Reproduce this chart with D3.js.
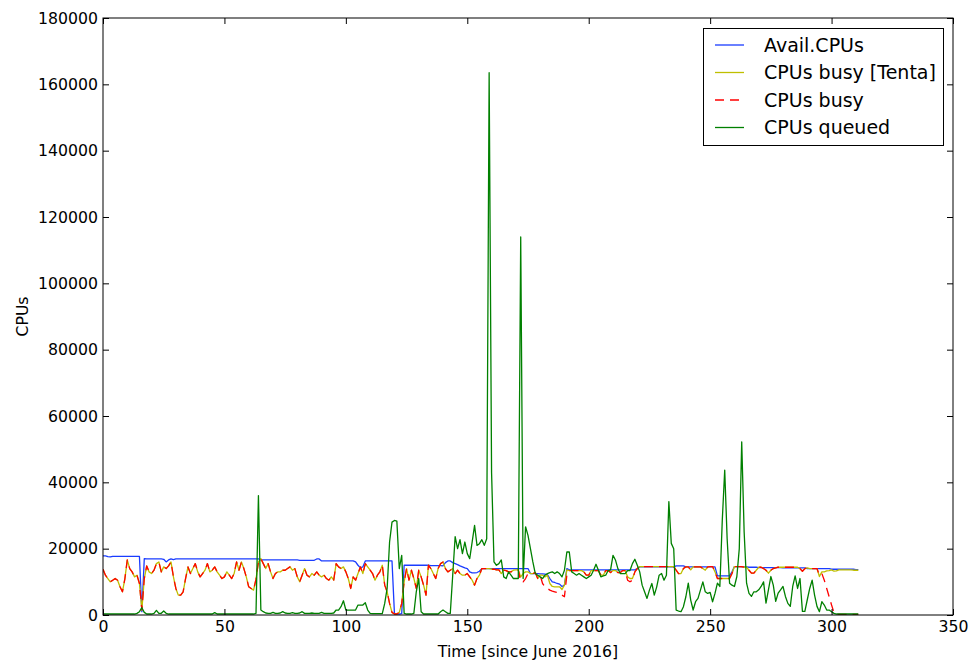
<!DOCTYPE html>
<html>
<head>
<meta charset="utf-8">
<script src="https://cdn.jsdelivr.net/npm/d3@7"></script>
<style>
  html, body { margin: 0; padding: 0; background: #ffffff; }
  svg { display: block; font-family: "DejaVu Sans", sans-serif; }
</style>
</head>
<body>
<svg id="chart" width="969" height="660"></svg>
<script>
// ---------------- data ----------------
const days = d3.range(312);

const xTicks = [0, 50, 100, 150, 200, 250, 300, 350];
const yTicks = [0, 20000, 40000, 60000, 80000, 100000, 120000, 140000, 160000, 180000];

const seriesNames = ["Avail.CPUs", "CPUs busy [Tenta]", "CPUs busy", "CPUs queued"];

const availCPUs = [
  17800,17800,17600,17500,17700,17700,17700,17700,17700,17700,
  17700,17700,17700,17700,17700,17700,1000,17000,16900,16900,
  16900,16900,16900,16900,16900,16800,16000,16600,16900,16700,
  16900,16900,16900,16900,16900,16900,16900,16900,16900,16900,
  16900,16900,16900,16900,16900,16900,16900,16900,16900,16900,
  16900,16900,16900,16900,16900,16900,16900,16900,16900,16900,
  16900,16900,16900,16900,16900,16600,16600,16600,16600,16600,
  16600,16600,16600,16600,16600,16600,16600,16600,16600,16600,
  16600,16500,16500,16500,16500,16500,16500,16500,16900,16900,
  16300,16300,16300,16300,16300,16300,16300,16300,16300,16300,
  16300,16300,16300,16300,16000,15000,14200,14500,16300,16300,
  16300,16300,16300,16300,16300,16300,16300,16300,16300,16300,
  500,300,300,400,15000,15000,15000,15000,15000,15000,
  15000,15000,15000,15000,15000,14900,14900,14900,14900,14900,
  14800,15800,16300,16300,15800,15500,15200,14800,14500,14200,
  14000,13000,12700,12700,12800,13200,14000,14000,14000,14000,
  14000,14000,14000,14000,14000,14000,14000,14000,14000,14000,
  14000,14000,14000,14000,14000,14000,12500,12500,12500,12500,
  12400,12400,12300,12200,11000,10000,9800,9500,9300,8600,
  9000,14000,13600,13600,13600,13600,13600,13600,13600,13600,
  13600,13600,13600,13600,13600,13600,13600,13600,13600,13600,
  13600,13600,13600,13600,13600,13600,13600,13600,13600,13600,
  14000,14500,14500,14500,14500,14500,14500,14500,14500,14500,
  14500,14500,14500,14500,14500,14500,14800,14800,14800,14800,
  14500,14500,14500,14500,14500,14500,14500,14500,14500,14500,
  14500,14500,14500,11800,11800,11800,11800,11800,11800,13000,
  14600,14600,14600,14500,14500,14500,14400,14400,14400,14400,
  14300,14300,14300,14300,14300,14300,14300,14300,14300,14300,
  14200,14200,14200,14200,14200,14200,14200,14200,14200,14200,
  14000,14000,14000,14000,14000,14000,14000,14000,14000,14000,
  13800,13800,13800,13800,13800,13800,13800,13800,13800,13800,
  13700,13700
];

const busyTenta = [
  13800,12000,11000,10000,10500,11000,10500,8500,7000,10900,
  16600,14000,13000,11500,12000,9500,1500,11000,14800,13000,
  12500,13500,15500,16000,13000,14500,14000,14800,16000,11500,
  8000,6000,6000,7000,11000,14500,12500,14000,15500,13000,
  11500,12500,13500,15500,13000,13500,14500,13000,12000,11000,
  11500,13000,12000,11000,12500,16000,13500,16000,14000,11500,
  8500,8000,7500,10800,16000,17000,15500,14000,15500,13000,
  11000,12500,13000,13000,13500,13500,14000,14500,13500,14000,
  11500,10000,12000,14000,12000,11500,12500,12000,13000,12000,
  11500,12000,11000,10500,11500,10500,15500,14500,14000,14500,
  13000,11000,8000,11500,10500,12500,14500,12500,15500,14500,
  13500,12500,10500,12000,13000,15000,9000,7000,3500,800,
  300,300,800,3500,10000,14000,10500,13500,11000,8000,
  13500,11500,9000,6000,15000,14000,12500,11000,14000,15500,
  16000,14000,13000,13500,14000,12500,13500,12500,12000,12000,
  12500,11500,10500,9000,11000,12000,14000,14000,14000,14000,
  13800,13800,13600,13600,12500,13500,13400,13000,13000,13500,
  13600,13600,11500,12500,13000,13000,12500,12500,12800,11000,
  12000,12000,11500,12000,9500,8600,8500,8500,8500,7700,
  9000,13600,13400,13400,13400,13400,13400,13400,13000,12000,
  12000,13400,13400,13400,13400,12000,12000,13400,13400,12800,
  13400,13400,12800,12800,13400,13400,11500,11000,11000,13000,
  14000,14600,14600,14600,14600,14600,14600,14600,14600,14600,
  14600,14600,14600,14600,14600,14600,13500,12500,12500,14000,
  14500,14500,13600,14500,14500,14500,14500,14000,13500,14500,
  14600,14600,13000,11000,11000,11000,11000,11000,11000,12500,
  14600,14600,14600,14600,14400,14400,13500,12600,12600,13500,
  14400,14400,14000,13500,12600,13500,14000,14200,14400,14400,
  14400,14400,14400,14400,14400,14400,14400,14000,13200,14000,
  14200,14000,14000,14000,14000,11600,13000,13000,13300,13400,
  13600,13200,13300,13600,13600,13600,13600,13600,13600,13500,
  13500,13500
];

const busy = [
  13800,12000,11000,10000,10500,11000,10500,8500,7000,10900,
  16600,14000,13000,11500,12000,9500,1500,11000,14800,13000,
  12500,13500,15500,16000,13000,14500,14000,14800,16000,11500,
  8000,6000,6000,7000,11000,14500,12500,14000,15500,13000,
  11500,12500,13500,15500,13000,13500,14500,13000,12000,11000,
  11500,13000,12000,11000,12500,16000,13500,16000,14000,11500,
  8500,8000,7500,10800,16000,17000,15500,14000,15500,13000,
  11000,12500,13000,13000,13500,13500,14000,14500,13500,14000,
  11500,10000,12000,14000,12000,11500,12500,12000,13000,12000,
  11500,12000,11000,10500,11500,10500,15500,14500,14000,14500,
  13000,11000,8000,11500,10500,12500,14500,12500,15500,14500,
  13500,12500,10500,12000,13000,15000,9000,7000,3500,800,
  300,300,800,3500,10000,14000,10500,13500,11000,8000,
  13500,11500,9000,6000,15000,14000,12500,11000,14000,15500,
  16000,14000,13000,13500,14000,12500,13500,12500,12000,12000,
  12500,11500,10500,9000,11000,12000,14000,14000,14000,14000,
  13800,13800,13600,13600,12500,13500,13400,13000,13000,13500,
  13600,13600,10000,10000,11000,12500,12500,12500,12800,11000,
  12000,9500,8500,8000,7500,7200,7000,6800,6500,6000,
  5500,12000,13400,13400,13400,13400,13400,13400,13000,12000,
  12000,13400,13400,13400,13400,12000,12000,13400,13400,12800,
  13400,13400,12800,12800,13400,13400,10500,10000,10500,13000,
  14000,14600,14600,14600,14600,14600,14600,14600,14600,14600,
  14600,14600,14600,14600,14600,14600,13500,12500,12500,14000,
  14500,14500,13600,14500,14500,14500,14500,14000,13500,14500,
  14600,14600,13000,11000,11000,11000,11000,11000,11000,12500,
  14600,14600,14600,14600,14400,14400,13500,12600,12600,13500,
  14400,14400,14000,13500,12600,13500,14000,14200,14400,14400,
  14400,14400,14400,14400,14400,14400,14400,14000,13200,14000,
  14200,14000,14000,14000,14000,12000,12500,10500,8000,5500,
  3000,700,200,200,200,200,200,200,200,200,
  200,200
];

const queued = [
  300,300,300,300,300,300,300,300,300,300,
  300,300,300,300,500,1000,2200,800,300,300,
  300,500,1400,500,500,1200,500,300,300,300,
  300,300,300,300,300,300,300,300,300,300,
  300,300,300,300,300,300,700,300,300,300,
  300,300,300,300,300,300,300,300,300,300,
  300,300,300,500,36000,1500,1000,600,500,500,
  800,500,500,600,1000,600,500,500,700,500,
  500,600,1000,500,500,500,600,500,500,500,
  800,500,500,500,500,600,1500,1500,2500,4300,
  1500,1500,1500,1500,1500,3000,3000,3000,3700,1500,
  500,400,400,400,400,400,3500,8000,22000,28000,
  28500,28300,14000,18000,500,300,300,300,500,7000,
  11000,1000,300,300,300,300,300,300,300,1000,
  1500,1000,500,500,12000,23600,20000,22700,18500,22000,
  18500,17000,22000,27000,21000,21500,22700,21000,23000,163500,
  43000,16000,15000,15500,16600,11500,11000,13000,12000,11000,
  11000,11000,114000,11000,26600,24000,20000,16000,12500,12000,
  11500,11000,12000,12500,12800,13000,12500,13000,12500,11500,
  13500,19000,19000,13000,12500,12000,12500,12000,11500,11000,
  11500,12000,13500,15300,13500,11500,11800,12000,13400,13600,
  18000,16600,14000,12500,12500,12500,13400,13400,15500,16800,
  15000,13000,9000,7000,5000,7500,9500,6000,8500,12000,
  12500,10500,12000,34200,21600,20000,1500,1200,1000,2500,
  5500,9600,4500,1500,4000,5000,7500,10000,7000,6500,
  6800,4000,6500,9600,8600,28600,43700,23000,9600,9000,
  8600,11600,20000,52200,25000,9600,6500,5600,7000,7000,
  7600,8600,10000,3600,7600,11600,9000,4100,6600,7600,
  8600,5600,3500,2600,8600,11800,8000,11000,1100,1100,
  4600,8000,10500,6000,2600,1000,4000,3000,1500,1500,
  1000,500,300,300,300,300,300,300,300,300,
  300,300
];

// ---------------- layout ----------------
const svg = d3.select("#chart");
const L = 103, R = 953, T = 18, B = 615;
const x = d3.scaleLinear().domain([0, 350]).range([L, R]);
const y = d3.scaleLinear().domain([0, 180000]).range([B, T]);

const styles = [
  { color: "#1a3cff", dash: null },
  { color: "#bfbf00", dash: null },
  { color: "#ff0000", dash: "9,6" },
  { color: "#008000", dash: null }
];
const seriesData = [availCPUs, busyTenta, busy, queued];

// clip
svg.append("defs").append("clipPath").attr("id", "clip")
  .append("rect").attr("x", L).attr("y", T).attr("width", R - L).attr("height", B - T);

const line = d3.line()
  .x((d, i) => x(days[i]))
  .y(d => y(d));

const g = svg.append("g").attr("clip-path", "url(#clip)");
seriesData.forEach((s, k) => {
  g.append("path")
    .datum(s)
    .attr("d", line)
    .attr("fill", "none")
    .attr("stroke", styles[k].color)
    .attr("stroke-width", 1.3)
    .attr("stroke-linejoin", "round")
    .attr("stroke-dasharray", styles[k].dash);
});

// axes
const fs = "15.7px";
const ax = svg.append("g").attr("transform", `translate(0,${B})`)
  .call(d3.axisBottom(x).tickValues(xTicks).tickSizeInner(-6).tickSizeOuter(0).tickPadding(6).tickFormat(d3.format("d")));
const axTop = svg.append("g").attr("transform", `translate(0,${T})`)
  .call(d3.axisTop(x).tickValues(xTicks).tickSizeInner(-6).tickSizeOuter(0).tickFormat(""));
const ay = svg.append("g").attr("transform", `translate(${L},0)`)
  .call(d3.axisLeft(y).tickValues(yTicks).tickSizeInner(-6).tickSizeOuter(0).tickPadding(5).tickFormat(d3.format("d")));
const ayR = svg.append("g").attr("transform", `translate(${R},0)`)
  .call(d3.axisRight(y).tickValues(yTicks).tickSizeInner(-6).tickSizeOuter(0).tickFormat(""));

[ax, axTop, ay, ayR].forEach(a => {
  a.select(".domain").remove();
  a.selectAll(".tick line").attr("stroke", "#000").attr("stroke-width", 1);
  a.selectAll("text").attr("font-family", "DejaVu Sans").attr("font-size", fs).attr("fill", "#000");
});

// frame
svg.append("rect").attr("x", L).attr("y", T).attr("width", R - L).attr("height", B - T)
  .attr("fill", "none").attr("stroke", "#000").attr("stroke-width", 1);

// axis labels
svg.append("text").attr("x", (L + R) / 2).attr("y", 657)
  .attr("text-anchor", "middle").attr("font-size", fs).attr("fill", "#000")
  .text("Time [since June 2016]");
svg.append("text").attr("transform", `translate(28,${(T + B) / 2}) rotate(-90)`)
  .attr("text-anchor", "middle").attr("font-size", fs).attr("fill", "#000")
  .text("CPUs");

// legend
const lg = svg.append("g");
lg.append("rect").attr("x", 703.5).attr("y", 28.5).attr("width", 240).attr("height", 117)
  .attr("fill", "#fff").attr("stroke", "#000").attr("stroke-width", 1);
const rowY = [45, 72.5, 100, 127.5];
seriesNames.forEach((name, k) => {
  lg.append("line").attr("x1", 715).attr("x2", 744).attr("y1", rowY[k]).attr("y2", rowY[k])
    .attr("stroke", styles[k].color).attr("stroke-width", 1.3)
    .attr("stroke-dasharray", styles[k].dash);
  lg.append("text").attr("x", 764).attr("y", rowY[k]).attr("dy", "0.36em")
    .attr("font-size", "19px").attr("fill", "#000").text(name);
});
</script>
</body>
</html>
